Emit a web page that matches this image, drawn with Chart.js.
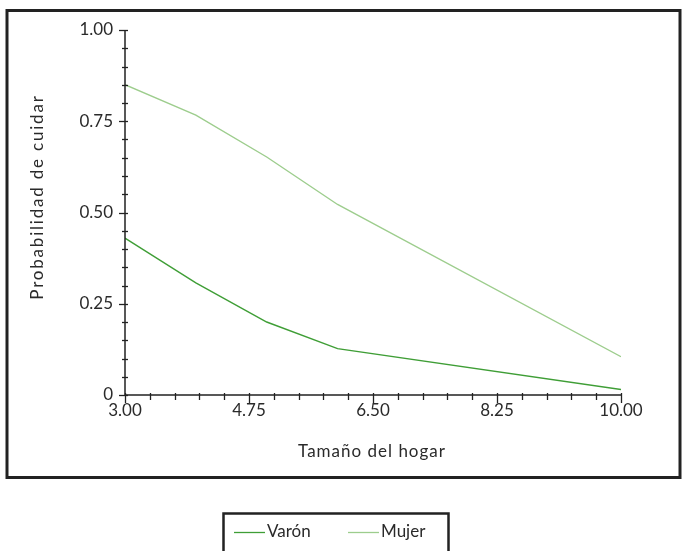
<!DOCTYPE html>
<html>
<head>
<meta charset="utf-8">
<script src="https://cdn.jsdelivr.net/npm/chart.js@4"></script>
<style>
  html, body { margin: 0; padding: 0; background: #fff; }
  #wrap { width: 682px; height: 551px; }
</style>
</head>
<body>
<div id="wrap"><canvas id="chart" width="682" height="551"></canvas></div>
<script>
// household size on x, probability of caring on y
const series_names = ["Varón", "Mujer"];
const series_colors = ["#3f9e36", "#9dcd8d"];
const hogar = [3, 4, 5, 6, 10];
const varon = [0.43, 0.307, 0.20, 0.127, 0.015];
const mujer = [0.85, 0.767, 0.652, 0.522, 0.105];

const x_major = [3.00, 4.75, 6.50, 8.25, 10.00];
const y_major = [0, 0.25, 0.50, 0.75, 1.00];
const x_labels = ["3.00", "4.75", "6.50", "8.25", "10.00"];
const y_labels = ["0", "0.25", "0.50", "0.75", "1.00"];

const font_family = "Lato, 'Open Sans', sans-serif";

function to_points(ys) {
    return hogar.map((x, i) => ({ x: x, y: ys[i] }));
}

/**
 * Frame, axes, tick marks, tick labels, titles and legend box.
 */
const frame_plugin = {
    id: "frame",
    afterDraw(chart) {
        const ctx = chart.ctx;
        const xs = chart.scales.x;
        const ys = chart.scales.y;
        const x0 = xs.getPixelForValue(3);
        const y0 = ys.getPixelForValue(0);
        const x1 = xs.getPixelForValue(10);
        const y1 = ys.getPixelForValue(1);

        ctx.save();
        ctx.strokeStyle = "#222";
        ctx.fillStyle = "#2a2a2a";

        // outer frame
        ctx.lineWidth = 3;
        ctx.strokeRect(7, 10.5, 673, 467);

        // axis lines
        ctx.lineWidth = 1.5;
        ctx.beginPath();
        ctx.moveTo(x0, y1);
        ctx.lineTo(x0, y0);
        ctx.lineTo(x1, y0);
        ctx.stroke();

        // y ticks every 0.05
        ctx.lineWidth = 1.3;
        for (let i = 0; i <= 20; i++) {
            const py = Math.round(ys.getPixelForValue(i * 0.05)) + 0.5;
            const major = i % 5 === 0;
            ctx.beginPath();
            ctx.moveTo(x0 - (major ? 6 : 3), py);
            ctx.lineTo(x0 + 3, py);
            ctx.stroke();
        }
        // x ticks every 0.35
        for (let i = 0; i <= 20; i++) {
            const px = Math.round(xs.getPixelForValue(3 + i * 0.35)) + 0.5;
            const major = i % 5 === 0;
            ctx.beginPath();
            ctx.moveTo(px, y0 - 2);
            ctx.lineTo(px, y0 + (major ? 8 : 5));
            ctx.stroke();
        }

        // tick labels
        ctx.font = "17px " + font_family;
        ctx.textAlign = "right";
        ctx.textBaseline = "middle";
        y_major.forEach((v, i) => {
            ctx.fillText(y_labels[i], x0 - 12, ys.getPixelForValue(v));
        });
        ctx.textAlign = "center";
        ctx.textBaseline = "top";
        x_major.forEach((v, i) => {
            ctx.fillText(x_labels[i], xs.getPixelForValue(v), y0 + 7);
        });

        // axis titles
        ctx.font = "17px " + font_family;
        ctx.textBaseline = "middle";
        ctx.letterSpacing = "1px";
        ctx.fillText("Tamaño del hogar", 372, 452);
        ctx.save();
        ctx.translate(38, 197);
        ctx.rotate(-Math.PI / 2);
        ctx.letterSpacing = "1.8px";
        ctx.fillText("Probabilidad de cuidar", 0, 0);
        ctx.restore();
        ctx.letterSpacing = "0px";

        // legend box
        ctx.lineWidth = 2.5;
        ctx.strokeStyle = "#222";
        ctx.strokeRect(223.5, 513.5, 225, 50);
        ctx.font = "17px " + font_family;
        ctx.textAlign = "left";
        const legend_x = [234, 348];
        series_names.forEach((name, i) => {
            ctx.strokeStyle = series_colors[i];
            ctx.lineWidth = 1.3;
            ctx.beginPath();
            ctx.moveTo(legend_x[i], 532.5);
            ctx.lineTo(legend_x[i] + 31, 532.5);
            ctx.stroke();
            ctx.fillStyle = "#2a2a2a";
            ctx.fillText(name, legend_x[i] + 33, 532);
        });

        ctx.restore();
    }
};

new Chart(document.getElementById("chart"), {
    type: "line",
    data: {
        datasets: [
            {
                label: series_names[0],
                data: to_points(varon),
                borderColor: series_colors[0],
                borderWidth: 1.4,
                pointRadius: 0,
                tension: 0
            },
            {
                label: series_names[1],
                data: to_points(mujer),
                borderColor: series_colors[1],
                borderWidth: 1.4,
                pointRadius: 0,
                tension: 0
            }
        ]
    },
    options: {
        responsive: false,
        animation: false,
        layout: {
            padding: { left: 125, right: 61, top: 30, bottom: 156 }
        },
        plugins: {
            legend: { display: false },
            tooltip: { enabled: false }
        },
        scales: {
            x: { type: "linear", min: 3, max: 10, display: false },
            y: { type: "linear", min: 0, max: 1, display: false }
        }
    },
    plugins: [frame_plugin]
});
</script>
</body>
</html>
